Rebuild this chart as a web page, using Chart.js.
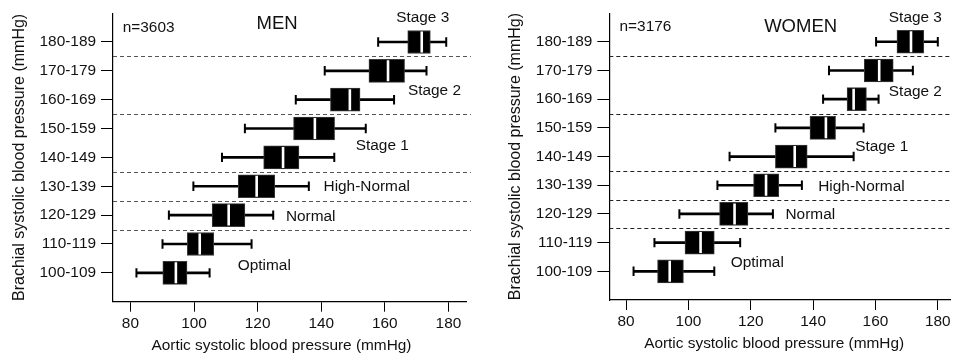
<!DOCTYPE html>
<html>
<head>
<meta charset="utf-8">
<script src="https://cdn.jsdelivr.net/npm/chart.js@4.4.1/dist/chart.umd.min.js"></script>
<style>
  html, body { margin: 0; padding: 0; background: #fff; }
  body { width: 964px; height: 357px; position: relative; overflow: hidden; }
  canvas { position: absolute; top: 0; }
</style>
</head>
<body>
<canvas id="men" width="480" height="357" style="left:0px"></canvas>
<canvas id="women" width="468" height="357" style="left:496px"></canvas>
<script>
// ---- Data ----
const categories = ['100-109', '110-119', '120-129', '130-139', '140-149', '150-159', '160-169', '170-179', '180-189'];
const xTickValues = [80, 100, 120, 140, 160, 180];

// Men (n=3603): aortic systolic pressure distribution per brachial band
const menWhiskerLow  = [81.9, 90.1, 92.1,  99.8, 108.8, 116.0, 132.0, 141.1, 157.9];
const menQ1          = [90.2, 97.9, 105.7, 113.9, 121.9, 131.3, 142.9, 155.0, 167.2];
const menMedian      = [94.3, 101.8, 110.9, 119.7, 128.0, 138.0, 149.0, 161.0, 171.6];
const menQ3          = [97.8, 106.2, 116.0, 125.4, 133.0, 144.2, 152.2, 166.2, 174.3];
const menWhiskerHigh = [104.9, 118.1, 124.9, 136.1, 144.1, 154.0, 162.9, 173.1, 179.3];

// Women (n=3176)
const womenWhiskerLow  = [82.4, 89.1, 97.1, 109.3, 113.2, 127.9, 143.2, 145.1, 160.2];
const womenQ1          = [90.1, 98.9, 110.0, 120.9, 127.9, 139.0, 150.9, 156.4, 166.9];
const womenMedian      = [94.0, 103.9, 114.8, 124.9, 134.1, 144.1, 153.0, 161.2, 171.4];
const womenQ3          = [98.4, 108.3, 119.1, 129.0, 138.1, 147.2, 157.1, 165.7, 175.5];
const womenWhiskerHigh = [108.3, 116.6, 127.1, 136.4, 153.0, 156.2, 161.0, 172.0, 180.0];

// Category boundaries with a dashed separator (separator lies above these bands)
const separatorAbove = ['110-119', '120-129', '130-139', '150-159', '170-179'];

// Text annotations: [text, x value, category position]
const menNotes = [
  ['Stage 3', 171.9, 8.85], ['Stage 2', 175.6, 6.3], ['Stage 1', 159.2, 4.4],
  ['High-Normal', 154.3, 3.0], ['Normal', 136.7, 1.95], ['Optimal', 122.1, 0.26]
];
const womenNotes = [
  ['Stage 3', 172.8, 8.85], ['Stage 2', 172.8, 6.25], ['Stage 1', 162.0, 4.35],
  ['High-Normal', 155.5, 2.95], ['Normal', 139.1, 1.97], ['Optimal', 122.1, 0.3]
];

const xTitle = 'Aortic systolic blood pressure (mmHg)';
const yTitle = 'Brachial systolic blood pressure (mmHg)';

const FONT = '"Liberation Sans", Arial, Helvetica, sans-serif';
const FS = 15.4;

const overlayPlugin = {
  id: 'overlay',
  beforeDatasetsDraw(chart, args, o) {
    const {ctx, chartArea} = chart;
    const ys = chart.scales.y;
    ctx.save();
    ctx.strokeStyle = o.dashColor;
    ctx.lineWidth = 1;
    ctx.setLineDash([4, 3]);
    separatorAbove.forEach(c => {
      const y = Math.round(ys.getPixelForValue(categories.indexOf(c) + 0.5)) + 0.5;
      ctx.beginPath();
      ctx.moveTo(chartArea.left, y);
      ctx.lineTo(chartArea.right + o.dashExtra, y);
      ctx.stroke();
    });
    ctx.restore();
  },
  afterDatasetsDraw(chart, args, o) {
    const {ctx, chartArea} = chart;
    const xs = chart.scales.x, ys = chart.scales.y;
    ctx.save();
    ctx.fillStyle = '#111';
    ctx.textBaseline = 'middle';
    ctx.font = FS + 'px ' + FONT;
    ctx.textAlign = 'center';
    o.notes.forEach(([t, x, y]) => ctx.fillText(t, xs.getPixelForValue(x), ys.getPixelForValue(y)));
    ctx.textAlign = 'left';
    ctx.fillText(o.nText, xs.getPixelForValue(o.nPos[0]), ys.getPixelForValue(o.nPos[1]));
    // x-axis title, centred under the plotted range
    ctx.textAlign = 'center';
    ctx.textBaseline = 'alphabetic';
    ctx.fillText(xTitle, xs.getPixelForValue(127.5), chartArea.bottom + 48.3);
    ctx.textBaseline = 'middle';
    ctx.font = '18.5px ' + FONT;
    ctx.fillText(o.title, xs.getPixelForValue(o.titlePos[0]), ys.getPixelForValue(o.titlePos[1]));
    ctx.restore();
  }
};

function zeroPad(s) { s.paddingTop = 0; s.paddingBottom = 0; s.paddingLeft = 0; s.paddingRight = 0; }

function makeChart(id, d, cfg) {
  const idx = categories.map((_, i) => i);
  const boxes = idx.map(i => ({x: [d.q1[i], d.q3[i]], y: i}));
  const whiskers = idx.map(i => ({x: [d.lo[i], d.hi[i]], y: i}));
  const caps = idx.flatMap(i => [{x: d.lo[i], y: i}, {x: d.hi[i], y: i}]);
  const meds = idx.map(i => ({x: d.med[i], y: i}));
  return new Chart(document.getElementById(id), {
    type: 'bar',
    data: {
      datasets: [
        {type: 'scatter', data: meds, order: 0, pointStyle: 'line', pointRotation: 90,
         pointRadius: 10.5, pointBorderWidth: 2.6, borderColor: '#fff', backgroundColor: '#fff'},
        {type: 'bar', indexAxis: 'y', data: boxes, order: 1, grouped: false, barThickness: 23,
         backgroundColor: '#000', borderColor: '#3a3a3a', borderWidth: 1, borderSkipped: false},
        {type: 'scatter', data: caps, order: 2, pointStyle: 'line', pointRotation: 90,
         pointRadius: 4.7, pointBorderWidth: 2, borderColor: '#000', backgroundColor: '#000'},
        {type: 'bar', indexAxis: 'y', data: whiskers, order: 3, grouped: false, barThickness: 2,
         backgroundColor: '#000', borderWidth: 0}
      ]
    },
    options: {
      responsive: false,
      animation: false,
      events: [],
      devicePixelRatio: 1,
      layout: {padding: {top: cfg.top, right: cfg.right, left: 0, bottom: 0}},
      plugins: {
        legend: {display: false},
        tooltip: {enabled: false},
        overlay: cfg.overlay
      },
      scales: {
        x: {
          type: 'linear', position: 'bottom', min: cfg.xmin, max: cfg.xmax, offset: false,
          afterFit: s => { s.height = cfg.xh; zeroPad(s); },
          afterBuildTicks: s => { s.ticks = xTickValues.map(v => ({value: v})); },
          grid: {offset: false, drawOnChartArea: false, drawTicks: true, tickLength: 10, tickColor: '#000', tickWidth: 1},
          border: {display: true, color: '#000', width: 1.2},
          ticks: {color: '#111', font: {family: FONT, size: FS}, padding: 3, autoSkip: false, maxRotation: 0},
          title: {display: false}
        },
        y: {
          type: 'linear', position: 'left', min: -1, max: 9, offset: false, beginAtZero: false,
          afterFit: s => { s.width = cfg.yw; zeroPad(s); },
          afterBuildTicks: s => { s.ticks = categories.map((_, i) => ({value: i})); },
          grid: {offset: false, drawOnChartArea: false, drawTicks: true, tickLength: 12, tickColor: '#000', tickWidth: 1},
          border: {display: true, color: '#000', width: 1.2},
          ticks: {color: '#111', font: {family: FONT, size: FS}, padding: 5, autoSkip: false,
                  callback: v => categories[v]},
          title: {display: true, text: yTitle, color: '#111',
                  font: {family: FONT, size: 16}, padding: {top: 9.5, bottom: 0}}
        }
      }
    },
    plugins: [overlayPlugin]
  });
}

makeChart('men',
  {lo: menWhiskerLow, q1: menQ1, med: menMedian, q3: menQ3, hi: menWhiskerHigh},
  {top: 10, right: 7, xmin: 74.53, xmax: 185.8, xh: 55.3, yw: 113, 
   overlay: {dashColor: '#555', dashExtra: 4, notes: menNotes, nText: 'n=3603', nPos: [77.6, 8.5],
             title: 'MEN', titlePos: [126.1, 8.62]}});

makeChart('women',
  {lo: womenWhiskerLow, q1: womenQ1, med: womenMedian, q3: womenQ3, hi: womenWhiskerHigh},
  {top: 8.3, right: 0, xmin: 74.62, xmax: 184.2, xh: 57, yw: 113.3,
   overlay: {dashColor: '#222', dashExtra: 0, notes: womenNotes, nText: 'n=3176', nPos: [77.9, 8.52],
             title: 'WOMEN', titlePos: [136.0, 8.52]}});
</script>
</body>
</html>
